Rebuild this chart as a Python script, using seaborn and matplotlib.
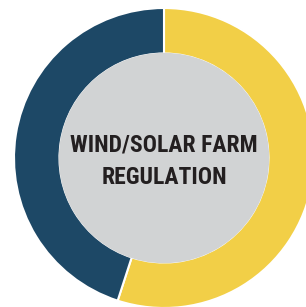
import matplotlib
matplotlib.use("Agg")
import matplotlib.pyplot as plt
import seaborn as sns

# data
labels = ["Solar", "Wind"]
shares = [55, 45]
colors = ["#f2cf47", "#1d4866"]
title_lines = ["WIND/SOLAR FARM", "REGULATION"]

sns.set_theme(style="white")
plt.rcParams['font.family'] = ['Liberation Sans Narrow', 'Roboto Condensed',
                               'DejaVu Sans']

fig = plt.figure(figsize=(3.06, 3.07), dpi=100)
ax = fig.add_axes([0, 0, 1, 1])

cx, cy = 164, 149
r_out, r_in = 150, 104.5

ax.pie(shares, colors=colors, startangle=90, counterclock=False,
       center=(cx, cy), radius=r_out, frame=True,
       wedgeprops=dict(width=r_out - r_in, edgecolor='white', linewidth=1.5))
ax.add_patch(plt.Circle((cx, cy), r_in, color='#d1d3d4', zorder=3))

ax.text(cx, cy - 3, "\n".join(title_lines), ha='center', va='center',
        fontsize=17, fontweight='bold', fontstretch='condensed',
        color='#231f20', linespacing=1.55, zorder=4)

ax.set_xlim(0, 306)
ax.set_ylim(0, 307)
ax.set_aspect('equal')
ax.axis('off')
fig.savefig("out.png", dpi=100)
